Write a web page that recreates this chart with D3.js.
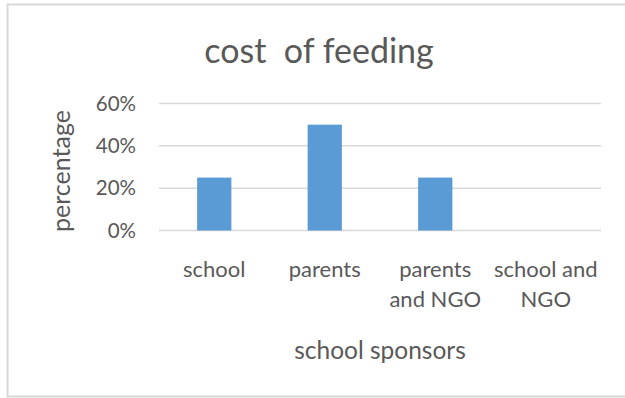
<!DOCTYPE html>
<html><head><meta charset="utf-8">
<script src="https://cdn.jsdelivr.net/npm/d3@7/dist/d3.min.js"></script>
<style>
html,body{margin:0;padding:0;background:#fff;}
svg{display:block;}
text{font-family:Lato, "Open Sans", sans-serif;fill:#595959;}
</style></head>
<body>
<script>
const categories = [["school"], ["parents"], ["parents", "and NGO"], ["school and", "NGO"]];
const values = [0.25, 0.50, 0.25, 0];
const yTicks = [0, 0.2, 0.4, 0.6];
const title = "cost\u00a0 of feeding";
const xTitle = "school sponsors";
const yTitle = "percentage";

const W = 625, H = 398;
const svg = d3.select("body").append("svg").attr("width", W).attr("height", H);

svg.append("rect").attr("x", 7.5).attr("y", 4.5).attr("width", 640).attr("height", 392)
  .attr("fill", "#fff").attr("stroke", "#d9d9d9").attr("stroke-width", 2);

const x = d3.scaleBand().domain(d3.range(categories.length)).range([159, 601]).paddingInner(0.69).paddingOuter(0.345);
const y = d3.scaleLinear().domain([0, 0.6]).range([230.5, 103.5]);

// gridlines
svg.append("g").selectAll("line").data(yTicks).join("line")
  .attr("x1", 159).attr("x2", 601)
  .attr("y1", d => y(d)).attr("y2", d => y(d))
  .attr("stroke", "#d9d9d9").attr("stroke-width", 1.5);

// y axis labels via d3 axis
const yAxis = d3.axisLeft(y).tickValues(yTicks).tickFormat(d3.format(".0%")).tickSize(0).tickPadding(0);
const ga = svg.append("g").attr("transform", "translate(136,0)").call(yAxis);
ga.select(".domain").remove();
ga.selectAll("text").attr("font-size", 20.5).attr("fill", "#595959").attr("font-family", "Lato");

// bars
svg.append("g").selectAll("rect").data(values).join("rect")
  .attr("x", (d, i) => x(i)).attr("width", x.bandwidth())
  .attr("y", d => y(d)).attr("height", d => y(0) - y(d))
  .attr("fill", "#5b9bd5");

// category labels
const cl = svg.append("g").selectAll("text").data(categories).join("text")
  .attr("text-anchor", "middle").attr("font-size", 22)
  .attr("transform", (d, i) => `translate(${x(i) + x.bandwidth() / 2},277)`);
cl.selectAll("tspan").data(d => d).join("tspan")
  .attr("x", 0).attr("y", (d, j) => j * 30).text(d => d);

// title
svg.append("text").attr("x", 319).attr("y", 63).attr("text-anchor", "middle")
  .attr("font-size", 34).style("white-space", "pre").text(title);

// axis titles
svg.append("text").attr("x", 380).attr("y", 359).attr("text-anchor", "middle")
  .attr("font-size", 24.5).text(xTitle);
svg.append("text").attr("transform", "translate(70,171) rotate(-90)").attr("text-anchor", "middle")
  .attr("font-size", 25).text(yTitle);
</script>
</body></html>
